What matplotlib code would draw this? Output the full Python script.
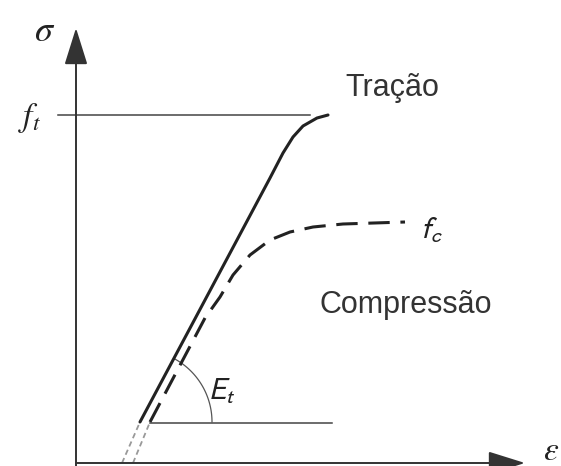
import numpy as np
import matplotlib
matplotlib.use('Agg')
import matplotlib.pyplot as plt

#################################################################
### DATA (schematic strain / stress, origin at the axes corner)
# tension curve (solid)
trac_eps = [64, 194, 207, 217, 227, 241, 252]
trac_sig = [41, 285, 310, 326, 337, 345, 348]
# compression curve (dashed)
comp_eps = [74, 129, 144, 157, 174, 194, 214, 237, 267, 329]
comp_sig = [41, 145, 166, 188, 208, 223, 231, 236, 239, 241]
# faint extension of both lines down to the strain axis
trac_ext_eps = [46, 64]
trac_ext_sig = [0, 41]
comp_ext_eps = [57, 74]
comp_ext_sig = [0, 41]
# f_t level and the base line of the E_t angle
ft_level = 348
ft_span = [-18, 234]
et_level = 40
et_span = [74, 256]
arc_center = (64, 41)
arc_radius = 72
arc_angle = 62

#################################################################
### FIGURE
fig = plt.figure(figsize=(5.61, 4.66), dpi=100)
ax = fig.add_axes([0, 0, 1, 1])
ax.set_xlim(-76, 485)
ax.set_ylim(-3, 463)
ax.axis('off')

# axes with arrows
arrow = dict(arrowstyle='-|>,head_length=1.15,head_width=0.36',
             mutation_scale=20, color='#333333', lw=1.4, shrinkA=0, shrinkB=0)
ax.annotate('', xy=(0, 435), xytext=(0, -3), arrowprops=arrow)
ax.annotate('', xy=(449, 0), xytext=(0, 0), arrowprops=arrow)

# f_t line
ax.plot(ft_span, [ft_level, ft_level], color='#444444', lw=1.1)
# E_t base line and angle arc
ax.plot(et_span, [et_level, et_level], color='#444444', lw=1.1)
th = np.linspace(0, np.radians(arc_angle), 50)
ax.plot(arc_center[0] + arc_radius*np.cos(th),
        arc_center[1] + arc_radius*np.sin(th), color='#555555', lw=0.9)

# curves
ax.plot(trac_eps, trac_sig, color='#222222', lw=2.2,
        solid_capstyle='round', solid_joinstyle='round')
ax.plot(comp_eps, comp_sig, color='#222222', lw=2.2,
        dashes=(7, 3.5), dash_capstyle='butt', dash_joinstyle='round')
ax.plot(trac_ext_eps, trac_ext_sig, color='#999999', lw=1.3, dashes=(3, 2))
ax.plot(comp_ext_eps, comp_ext_sig, color='#999999', lw=1.3, dashes=(3, 2))

# labels
ax.text(-31, 432, r'$\sigma$', fontsize=26, math_fontfamily='stix',
        ha='center', va='center', color='#222222')
ax.text(-46, 345, r'$f_t$', fontsize=24, math_fontfamily='stix',
        ha='center', va='center', color='#222222')
ax.text(475, 12, r'$\varepsilon$', fontsize=24, math_fontfamily='stix',
        ha='center', va='center', color='#222222')
ax.text(316, 375, 'Tração', fontsize=22, family='Liberation Sans',
        ha='center', va='center', color='#333333')
ax.text(330, 158, 'Compressão', fontsize=22, family='Liberation Sans',
        ha='center', va='center', color='#333333')
ax.text(355, 233, r'$f_c$', fontsize=22, math_fontfamily='stixsans',
        ha='center', va='center', color='#222222')
ax.text(146, 72, r'$E_t$', fontsize=22, math_fontfamily='stixsans',
        ha='center', va='center', color='#222222')

fig.savefig('out.png', dpi=100)
